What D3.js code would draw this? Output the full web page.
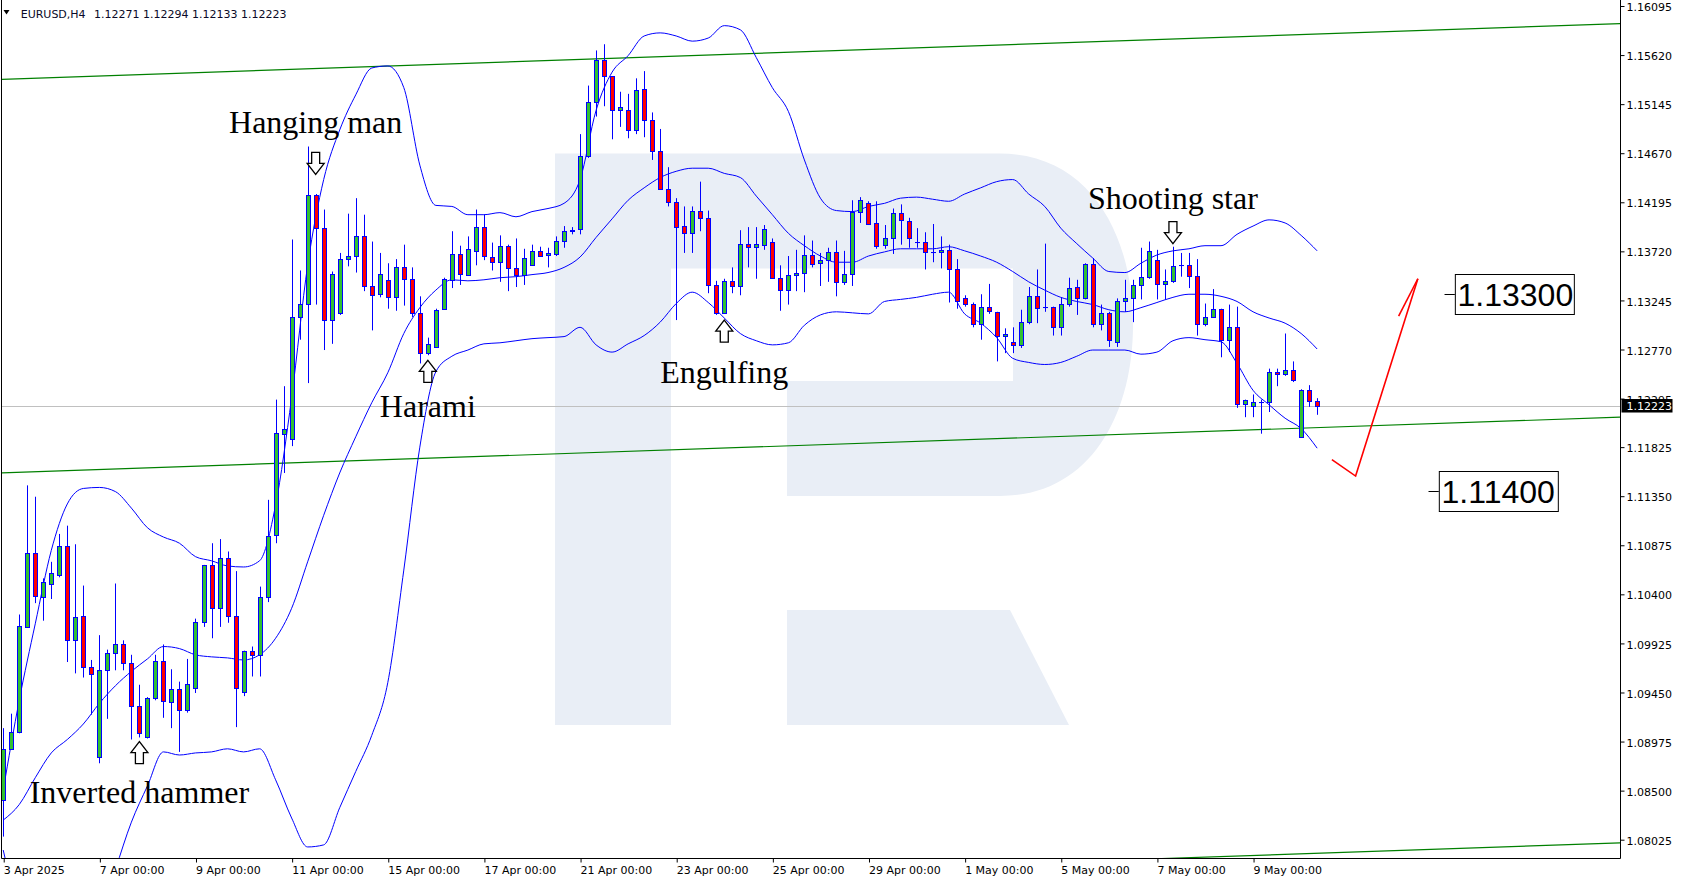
<!DOCTYPE html>
<html><head><meta charset="utf-8">
<script src="https://cdn.jsdelivr.net/npm/d3@7"></script>
<style>
html,body{margin:0;padding:0;background:#fff;}
svg{display:block;}
</style></head><body>
<svg id="chart" width="1684" height="882"></svg>
<script>
// ---------- DATA (EURUSD H4, 3 Apr 2025 -> 12 May 2025) ----------
const symbolName = "EURUSD,H4";
const lastQuote = [1.12271, 1.12294, 1.12133, 1.12223];
const openP = [1.0840,1.0890,1.0906,1.1008,1.1080,1.1037,1.1050,1.1058,1.1086,1.0995,
1.1019,1.0969,1.0882,1.0966,1.0983,1.0991,1.0973,1.0931,1.0901,1.0939,
1.0975,1.0935,1.0948,1.0928,1.0949,1.1013,1.1068,1.1026,1.1075,1.1019,
1.0945,1.0985,1.0981,1.1037,1.1097,1.1195,1.1190,1.1308,1.1321,1.1426,
1.1394,1.1305,1.1312,1.1364,1.1367,1.1386,1.1338,1.1330,1.1344,1.1327,
1.1356,1.1345,1.1312,1.1273,1.1279,1.1316,1.1344,1.1369,1.1349,1.1372,
1.1395,1.1366,1.1361,1.1377,1.1355,1.1349,1.1358,1.1372,1.1368,1.1369,
1.1382,1.1391,1.1393,1.1464,1.1516,1.1557,1.1541,1.1508,1.1508,1.1489,
1.1529,1.1499,1.1469,1.1432,1.1419,1.1396,1.1389,1.1411,1.1404,1.1339,
1.1312,1.1343,1.1338,1.1379,1.1376,1.1378,1.1381,1.1346,1.1334,1.1349,
1.1351,1.1368,1.1360,1.1363,1.1371,1.1342,1.1350,1.1410,1.1418,1.1399,
1.1378,1.1384,1.1409,1.1401,1.1381,1.1381,1.1371,1.1371,1.1373,1.1354,
1.1326,1.1321,1.1301,1.1318,1.1313,1.1290,1.1284,1.1281,1.1303,1.1328,
1.1318,1.1318,1.1298,1.1321,1.1337,1.1326,1.1359,1.1301,1.1312,1.1284,
1.1323,1.1326,1.1339,1.1347,1.1363,1.1340,1.1343,1.1358,1.1358,1.1348,
1.1301,1.1308,1.1316,1.1286,1.1298,1.1224,1.1222,1.1226,1.1226,1.1255,
1.1253,1.1257,1.1192,1.1237,1.12271];
const highP = [1.0910,1.0924,1.1020,1.1145,1.1134,1.1055,1.1071,1.1098,1.1106,1.1088,
1.1048,1.0976,1.1000,1.0986,1.1050,1.0995,1.0981,1.0952,1.0940,1.0981,
1.0991,1.0967,1.0955,1.0977,1.1016,1.1068,1.1089,1.1093,1.1081,1.1062,
1.0985,1.0989,1.1047,1.1131,1.1228,1.1241,1.1383,1.1353,1.1473,1.1427,
1.1412,1.1352,1.1370,1.1408,1.1423,1.1407,1.1381,1.1370,1.1360,1.1364,
1.1378,1.1356,1.1328,1.1288,1.1316,1.1346,1.1391,1.1377,1.1386,1.1412,
1.1407,1.1380,1.1387,1.1378,1.1384,1.1374,1.1378,1.1376,1.1375,1.1386,
1.1396,1.1395,1.1485,1.1532,1.1566,1.1572,1.1541,1.1526,1.1524,1.1539,
1.1546,1.1506,1.1490,1.1453,1.1423,1.1415,1.1415,1.1439,1.1411,1.1343,
1.1345,1.1356,1.1392,1.1395,1.1395,1.1397,1.1384,1.1358,1.1367,1.1373,
1.1387,1.1382,1.1370,1.1375,1.1382,1.1372,1.1421,1.1424,1.1420,1.1420,
1.1397,1.1413,1.1417,1.1404,1.1394,1.1390,1.1398,1.1386,1.1378,1.1364,
1.1329,1.1322,1.1330,1.1340,1.1313,1.1297,1.1298,1.1315,1.1337,1.1354,
1.1379,1.1318,1.1327,1.1346,1.1344,1.1360,1.1365,1.1320,1.1313,1.1326,
1.1344,1.1344,1.1375,1.1381,1.1373,1.1354,1.1376,1.1370,1.1370,1.1364,
1.1321,1.1335,1.1316,1.1320,1.1318,1.1228,1.1233,1.1228,1.1258,1.1258,
1.1292,1.1265,1.1238,1.1242,1.12294];
const lowP = [1.0805,1.0889,1.0905,1.1008,1.1031,1.1014,1.1035,1.1056,1.0974,1.0963,
1.0959,1.0923,1.0876,1.0919,1.0966,1.0966,1.0899,1.0901,1.0900,1.0937,
1.0920,1.0910,1.0887,1.0925,1.0944,1.1008,1.0997,1.1008,1.1012,1.0911,
1.0941,1.0960,1.0960,1.1032,1.1089,1.1157,1.1183,1.1286,1.1244,1.1320,
1.1276,1.1282,1.1310,1.1357,1.1351,1.1333,1.1295,1.1327,1.1316,1.1314,
1.1319,1.1308,1.1263,1.1271,1.1279,1.1315,1.1336,1.1339,1.1348,1.1358,
1.1363,1.1353,1.1342,1.1333,1.1337,1.1339,1.1358,1.1367,1.1356,1.1367,
1.1375,1.1388,1.1388,1.1462,1.1502,1.1512,1.1480,1.1492,1.1481,1.1485,
1.1482,1.1460,1.1431,1.1415,1.1305,1.1370,1.1370,1.1391,1.1331,1.1310,
1.1312,1.1331,1.1329,1.1356,1.1345,1.1373,1.1345,1.1314,1.1320,1.1333,
1.1332,1.1356,1.1338,1.1342,1.1328,1.1339,1.1338,1.1399,1.1397,1.1374,
1.1374,1.1369,1.1378,1.1375,1.1375,1.1354,1.1361,1.1355,1.1322,1.1316,
1.1318,1.1298,1.1286,1.1311,1.1265,1.1273,1.1273,1.1278,1.1301,1.1302,
1.1313,1.1290,1.1290,1.1318,1.1310,1.1325,1.1298,1.1295,1.1279,1.1279,
1.1313,1.1303,1.1325,1.1345,1.1325,1.1325,1.1341,1.1347,1.1336,1.1290,
1.1299,1.1308,1.1269,1.1274,1.1220,1.1211,1.1211,1.1195,1.1216,1.1241,
1.1251,1.1245,1.1191,1.1221,1.12133];
const closeP = [1.0890,1.0906,1.1009,1.1080,1.1038,1.1051,1.1060,1.1086,1.0995,1.1018,
1.0969,1.0962,1.0966,1.0983,1.0991,1.0973,1.0931,1.0905,1.0939,1.0975,
1.0936,1.0948,1.0928,1.0953,1.1013,1.1068,1.1026,1.1075,1.1019,1.0949,
1.0985,1.0981,1.1037,1.1096,1.1196,1.1200,1.1308,1.1321,1.1426,1.1394,
1.1305,1.1350,1.1364,1.1367,1.1386,1.1338,1.1329,1.1350,1.1327,1.1356,
1.1345,1.1312,1.1273,1.1282,1.1315,1.1345,1.1369,1.1350,1.1374,1.1395,
1.1367,1.1361,1.1377,1.1355,1.1349,1.1365,1.1372,1.1367,1.1370,1.1382,
1.1391,1.1392,1.1464,1.1516,1.1557,1.1541,1.1508,1.1511,1.1489,1.1528,
1.1499,1.1469,1.1432,1.1419,1.1395,1.1389,1.1411,1.1404,1.1339,1.1312,
1.1343,1.1338,1.1379,1.1376,1.1379,1.1393,1.1346,1.1334,1.1349,1.1351,
1.1368,1.1359,1.1363,1.1371,1.1342,1.1350,1.1410,1.1421,1.1398,1.1377,
1.1384,1.1409,1.1402,1.1384,1.1381,1.1371,1.1371,1.1373,1.1354,1.1323,
1.1321,1.1301,1.1318,1.1314,1.1290,1.1292,1.1281,1.1303,1.1328,1.1317,
1.1318,1.1298,1.1321,1.1336,1.1326,1.1359,1.1301,1.1312,1.1286,1.1323,
1.1326,1.1339,1.1347,1.1372,1.1340,1.1343,1.1357,1.1358,1.1348,1.1301,
1.1308,1.1316,1.1286,1.1298,1.1224,1.1228,1.1226,1.1226,1.1255,1.1253,
1.1257,1.1247,1.1237,1.1227,1.12223];

// Bollinger bands, read every second bar (bars 0,2,4,...,164)
const bbUpper = [1.0850,1.0937,1.1011,1.1082,1.1127,1.1142,1.1143,1.1139,1.1123,1.1104,
1.1095,1.1089,1.1076,1.1072,1.1067,1.1066,1.1072,1.1126,1.1230,1.1358,
1.1441,1.1489,1.1523,1.1549,1.1551,1.1530,1.1455,1.1416,1.1415,1.1407,
1.1407,1.1409,1.1405,1.1410,1.1413,1.1418,1.1441,1.1508,1.1545,1.1561,
1.1580,1.1583,1.1580,1.1575,1.1578,1.1590,1.1586,1.1559,1.1530,1.1507,
1.1460,1.1423,1.1411,1.1410,1.1415,1.1418,1.1423,1.1424,1.1422,1.1420,
1.1427,1.1433,1.1439,1.1441,1.1427,1.1415,1.1394,1.1379,1.1365,1.1352,
1.1351,1.1360,1.1368,1.1372,1.1374,1.1377,1.1377,1.1388,1.1396,1.1402,
1.1399,1.1387,1.1372];
const bbMiddle = [1.0821,1.0836,1.0862,1.0886,1.0899,1.0914,1.0934,1.0951,1.0965,1.0977,
1.0989,1.0987,1.0981,1.0979,1.0978,1.0976,1.0981,1.0997,1.1026,1.1071,
1.1116,1.1157,1.1192,1.1225,1.1254,1.1292,1.1317,1.1334,1.1344,1.1343,
1.1344,1.1346,1.1347,1.1349,1.1351,1.1356,1.1366,1.1385,1.1403,1.1421,
1.1433,1.1443,1.1449,1.1452,1.1452,1.1447,1.1443,1.1425,1.1407,1.1389,
1.1377,1.1367,1.1361,1.1361,1.1367,1.1371,1.1374,1.1374,1.1374,1.1376,
1.1372,1.1367,1.1361,1.1352,1.1342,1.1334,1.1327,1.1323,1.1320,1.1315,
1.1313,1.1317,1.1322,1.1327,1.1330,1.1330,1.1328,1.1323,1.1313,1.1307,
1.1302,1.1292,1.1277];
const bbLower = [1.0792,1.0734,1.0713,1.0690,1.0670,1.0686,1.0725,1.0773,1.0819,1.0854,
1.0887,1.0884,1.0886,1.0887,1.0890,1.0887,1.0890,1.0860,1.0823,1.0795,
1.0797,1.0833,1.0868,1.0903,1.0954,1.1063,1.1182,1.1255,1.1270,1.1276,
1.1282,1.1283,1.1285,1.1287,1.1288,1.1289,1.1298,1.1281,1.1274,1.1282,
1.1290,1.1303,1.1321,1.1332,1.1322,1.1307,1.1292,1.1285,1.1281,1.1283,
1.1300,1.1310,1.1313,1.1312,1.1311,1.1323,1.1325,1.1327,1.1330,1.1332,
1.1311,1.1302,1.1288,1.1268,1.1264,1.1262,1.1264,1.1270,1.1276,1.1276,
1.1276,1.1272,1.1274,1.1285,1.1288,1.1286,1.1284,1.1263,1.1237,1.1223,
1.1210,1.1200,1.1181];

// price axis
const priceTicks = [1.16095,1.15620,1.15145,1.14670,1.14195,1.13720,1.13245,1.12770,1.12295,
  1.11825,1.11350,1.10875,1.10400,1.09925,1.09450,1.08975,1.08500,1.08025];
// time axis
const timeTickBars = [0,12,24,36,48,60,72,84,96,108,120,132,144,156];
const timeLabels = ["3 Apr 2025","7 Apr 00:00","9 Apr 00:00","11 Apr 00:00","15 Apr 00:00",
  "17 Apr 00:00","21 Apr 00:00","23 Apr 00:00","25 Apr 00:00","29 Apr 00:00","1 May 00:00",
  "5 May 00:00","7 May 00:00","9 May 00:00"];

// trend channel (bar index, price)
const channelTop = [[-0.4,1.1538],[201.8,1.1592]];
const channelMid = [[-0.4,1.1157],[201.8,1.1211]];
const channelBot = [[-0.4,1.0745],[201.8,1.0799]];

// candlestick pattern annotations
const patternNames = ["Hanging man","Harami","Engulfing","Shooting star","Inverted hammer"];
const patternBars = [39,53,90,146,17];
const patternArrowTip = [1.1446,1.1266,1.1305,1.1379,1.0897];
const patternDir = ["down","up","up","down","up"];
const patternTextBase = [1.1486,1.1211,1.1244,1.1413,1.0838];

// forecast arrow and levels
const forecastPath = [[165.84,1.1170],[168.8,1.1154],[176.57,1.1345]];
const levelPrices = [1.13300,1.11400];
const levelBars = [179.9,177.9];

// ---------- DRAW ----------
const svg = d3.select('#chart');
const plotR = 1620, plotB = 858;
const x = d3.scaleLinear().domain([-0.4, 201.8]).range([0, 1620]);
const y = d3.scaleLinear().domain([1.08025, 1.16095]).range([839.2, 5.5]);

svg.append('rect').attr('width',1684).attr('height',882).attr('fill','#fff');

const defs = svg.append('defs');
defs.append('clipPath').attr('id','clip').append('rect')
  .attr('x',2).attr('y',0).attr('width',plotR-2).attr('height',plotB);

const plot = svg.append('g').attr('clip-path','url(#clip)');

// watermark logo
const wm = plot.append('g').attr('fill','#e9eef6');
wm.append('path').attr('d',
 'M555,153.6 H1000 C1090,153.6 1133,235 1133,325 C1133,415 1090,496 1000,496 H787 V381 H1013 V268.5 H671 V725 H555 Z');
wm.append('path').attr('d','M787,610 H1010 L1069,725 H787 Z');

// current price line
plot.append('line').attr('x1',2).attr('x2',plotR)
  .attr('y1',Math.round(y(lastQuote[3]))+0.5).attr('y2',Math.round(y(lastQuote[3]))+0.5)
  .attr('stroke','#c0c0c0').attr('stroke-width',1);

// channel
const ln = d3.line().x(d=>x(d[0])).y(d=>y(d[1]));
[channelTop,channelMid,channelBot].forEach(c=>{
  plot.append('path').attr('d',ln(c)).attr('fill','none').attr('stroke','#008000').attr('stroke-width',1.2);
});

// bands
const bbBars = d3.range(0, openP.length, 2);
const bandLine = d3.line().x((d,k)=>x(bbBars[k])).y(d=>y(d)).curve(d3.curveMonotoneX);
[bbUpper,bbMiddle,bbLower].forEach(b=>{
  plot.append('path').attr('d',bandLine(b)).attr('fill','none').attr('stroke','#0000ff').attr('stroke-width',1);
});

// candles
const candles = openP.map((o,i)=>({i,o,h:highP[i],l:lowP[i],c:closeP[i]}));
const cx = d=>Math.round(x(d.i));
plot.selectAll('line.wick').data(candles).join('line').attr('class','wick')
  .attr('x1',d=>cx(d)+0.5).attr('x2',d=>cx(d)+0.5)
  .attr('y1',d=>y(d.h)).attr('y2',d=>y(d.l))
  .attr('stroke','#0000ff').attr('stroke-width',1);
plot.selectAll('rect.body').data(candles).join('rect').attr('class','body')
  .attr('x',d=>cx(d)-1.5).attr('width',4)
  .attr('y',d=>Math.round(y(Math.max(d.o,d.c)))+0.5)
  .attr('height',d=>Math.max(0.05,Math.round(y(Math.min(d.o,d.c)))-Math.round(y(Math.max(d.o,d.c)))))
  .attr('fill',d=>d.c>d.o?'#32c032':(d.c<d.o?'#ff0000':'#0000ff'))
  .attr('stroke','#0000ff').attr('stroke-width',1);

// pattern arrows + labels
function arrowPts(px,py,dir){
  const s = dir==='down'?-1:1;
  return [[px-4,py+s*22],[px+4,py+s*22],[px+4,py+s*11],[px+8.5,py+s*11],[px,py],[px-8.5,py+s*11],[px-4,py+s*11]];
}
patternNames.forEach((name,k)=>{
  const px = x(patternBars[k]), py = y(patternArrowTip[k]);
  plot.append('polygon').attr('points',arrowPts(px,py,patternDir[k]).map(p=>p.join(',')).join(' '))
    .attr('fill','#fff').attr('stroke','#000').attr('stroke-width',1.3);
  plot.append('text').attr('x',px).attr('y',y(patternTextBase[k]))
    .attr('text-anchor','middle').attr('font-family','"Liberation Serif","Times New Roman",serif')
    .attr('font-size',32).attr('fill','#000').text(name);
});

// forecast red arrow
const fp = forecastPath.map(d=>[x(d[0]),y(d[1])]);
plot.append('path').attr('d',d3.line()(fp)).attr('fill','none').attr('stroke','#ff0000').attr('stroke-width',1.6);
{
  const [tx,ty] = fp[2], [bx,by] = fp[1];
  const ang = Math.atan2(by-ty,bx-tx), L = 42;
  const h1 = [tx+L*Math.cos(ang+0.17), ty+L*Math.sin(ang+0.17)];
  plot.append('path').attr('d',d3.line()([h1,[tx,ty]])).attr('fill','none').attr('stroke','#ff0000').attr('stroke-width',1.6);
}

// level labels
levelPrices.forEach((p,k)=>{
  const lx = x(levelBars[k]), ly = Math.round(y(p))+0.5;
  plot.append('line').attr('x1',lx).attr('x2',lx+10.3).attr('y1',ly).attr('y2',ly).attr('stroke','#000');
  plot.append('rect').attr('x',lx+10.8).attr('y',ly-20).attr('width',119).attr('height',40)
    .attr('fill','#fff').attr('stroke','#000').attr('stroke-width',1);
  plot.append('text').attr('x',lx+13).attr('y',ly+11.5)
    .attr('font-family','"Liberation Sans",Arial,sans-serif').attr('font-size',32).attr('fill','#000')
    .text(d3.format('.5f')(p));
});

// frame / axes lines
svg.append('line').attr('x1',1.5).attr('x2',1.5).attr('y1',0).attr('y2',plotB+0.5).attr('stroke','#000');
svg.append('line').attr('x1',plotR+0.5).attr('x2',plotR+0.5).attr('y1',0).attr('y2',plotB+0.5).attr('stroke','#000');
svg.append('line').attr('x1',1.5).attr('x2',plotR+0.5).attr('y1',plotB+0.5).attr('y2',plotB+0.5).attr('stroke','#000');

// right price axis
const ay = svg.append('g').attr('transform',`translate(${plotR+0.5},0.5)`)
  .call(d3.axisRight(y).tickValues(priceTicks).tickSize(4).tickPadding(2).tickFormat(d3.format('.5f')));
ay.select('.domain').remove();
ay.selectAll('line').attr('stroke','#000');
ay.selectAll('text').attr('font-family','"DejaVu Sans",Verdana,sans-serif').attr('font-size',11).attr('fill','#000').attr('dy','0.42em');

// time axis
const ax = svg.append('g').attr('transform',`translate(0.5,${plotB+0.5})`)
  .call(d3.axisBottom(x).tickValues(timeTickBars).tickSize(4).tickPadding(4).tickFormat((d,k)=>timeLabels[k]));
ax.select('.domain').remove();
ax.selectAll('line').attr('stroke','#000');
ax.selectAll('text').attr('text-anchor','start').attr('x',-0.5)
  .attr('font-family','"DejaVu Sans",Verdana,sans-serif').attr('font-size',11).attr('fill','#000');

// current price tag
const cy = y(lastQuote[3]);
svg.append('rect').attr('x',plotR+1.5).attr('y',cy-6.5).attr('width',51).attr('height',13.5).attr('fill','#000');
svg.append('text').attr('x',plotR+6.5).attr('y',cy+4.3).attr('font-family','"DejaVu Sans",Verdana,sans-serif')
  .attr('font-size',11).attr('fill','#fff').text(d3.format('.5f')(lastQuote[3]));

// header
svg.append('polygon').attr('points','3.5,10 9.5,10 6.5,14.5').attr('fill','#000');
svg.append('text').attr('x',20.7).attr('y',17.5).attr('font-family','"DejaVu Sans",Verdana,sans-serif')
  .attr('font-size',11).attr('fill','#0a0a28').text(symbolName);
svg.append('text').attr('x',94).attr('y',17.5).attr('font-family','"DejaVu Sans",Verdana,sans-serif')
  .attr('font-size',11).attr('fill','#0a0a28').text(lastQuote.map(d3.format('.5f')).join(' '));
</script>
</body></html>
